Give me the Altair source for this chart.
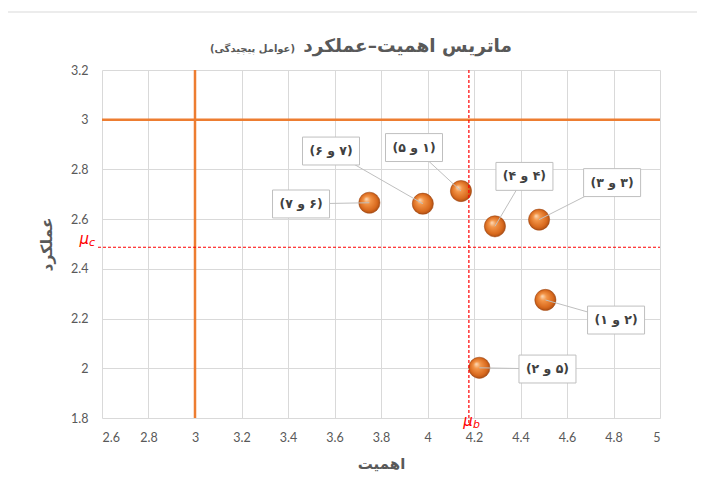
import altair as alt
import pandas as pd

# ---- data ----
importance = [3.75, 3.98, 4.144, 4.29, 4.48, 4.507, 4.223]
performance = [2.666, 2.662, 2.713, 2.571, 2.598, 2.275, 2.002]
labels = ["(۶ و ۷)", "(۷ و ۶)", "(۱ و ۵)", "(۴ و ۴)", "(۳ و ۳)", "(۲ و ۱)", "(۵ و ۲)"]
label_x = [3.456, 3.585, 3.942, 4.417, 4.794, 4.811, 4.516]
label_y = [2.661, 2.874, 2.888, 2.772, 2.747, 2.194, 1.997]

x_ticks = [2.6, 2.8, 3.0, 3.2, 3.4, 3.6, 3.8, 4.0, 4.2, 4.4, 4.6, 4.8, 5.0]
y_ticks = [1.8, 2.0, 2.2, 2.4, 2.6, 2.8, 3.0, 3.2]

threshold_x = [3.0]
threshold_y = [3.0]
mu_b = [4.178]
mu_c = [2.487]

title_main = "ماتریس اهمیت–عملکرد"
title_sub = "(عوامل پیچیدگی)"
x_title = "اهمیت"
y_title = "عملکرد"

RLM = "\u200f"

df = pd.DataFrame({
    "imp": importance,
    "perf": performance,
    "lx": label_x,
    "ly": label_y,
    "label": [RLM + s + RLM for s in labels],
})

W, H = 558, 348
GRAY = "#595959"
PFONT = "DejaVu Sans"

xs = alt.Scale(domain=[2.6, 5.0], nice=False, zero=False)
ys = alt.Scale(domain=[1.8, 3.2], nice=False, zero=False)

x_axis = alt.Axis(values=x_ticks, format="~g", grid=True, gridColor="#D9D9D9",
                  domain=False, ticks=False, labelPadding=13, labelColor=GRAY,
                  labelFont="Lato", labelFontSize=12.5, title=x_title,
                  titleFont=PFONT, titleFontSize=15, titleFontWeight="bold",
                  titleColor=GRAY, titlePadding=13)
y_axis = alt.Axis(values=y_ticks, format="~g", grid=True, gridColor="#D9D9D9",
                  domain=False, ticks=False, labelPadding=14, labelColor=GRAY,
                  labelFont="Lato", labelFontSize=12.5, title=y_title,
                  titleFont=PFONT, titleFontSize=15.5, titleFontWeight="bold",
                  titleColor=GRAY, titlePadding=16)


def X(field):
    return alt.X(field, scale=xs, axis=x_axis, title=x_title)


def Y(field):
    return alt.Y(field, scale=ys, axis=y_axis, title=y_title)


ball = alt.RadialGradient(
    gradient="radial",
    x1=0.35, y1=0.32, r1=0.0,
    x2=0.5, y2=0.5, r2=0.55,
    stops=[
        alt.GradientStop(offset=0.0, color="#FCDDBD"),
        alt.GradientStop(offset=0.3, color="#F39548"),
        alt.GradientStop(offset=0.75, color="#D8691D"),
        alt.GradientStop(offset=1.0, color="#9C4410"),
    ],
)

frame = alt.Chart(pd.DataFrame({"f": [0]})).mark_rect(
    fillOpacity=0, stroke="#D9D9D9", strokeWidth=1).encode(
    x=alt.value(-95), x2=alt.value(W + 60), y=alt.value(-58), y2=alt.value(H + 80))

base = alt.Chart(df)

points = base.mark_circle(size=450, opacity=1, fill=ball, stroke="#9C4410",
                          strokeWidth=0.5).encode(x=X("imp:Q"), y=Y("perf:Q"))

vline = alt.Chart(pd.DataFrame({"v": threshold_x})).mark_rule(
    color="#ED7D31", strokeWidth=2.5).encode(x=X("v:Q"))
hline = alt.Chart(pd.DataFrame({"v": threshold_y})).mark_rule(
    color="#ED7D31", strokeWidth=2.5).encode(y=Y("v:Q"))

mub_df = pd.DataFrame({"v": mu_b})
muc_df = pd.DataFrame({"v": mu_c})

mub_line = alt.Chart(mub_df).mark_rule(color="#FF0000", strokeWidth=1.2,
                                       strokeDash=[3, 2]).encode(
    x=X("v:Q"), y=alt.value(0), y2=alt.value(H + 6))
muc_line = alt.Chart(muc_df).mark_rule(color="#FF0000", strokeWidth=1.2,
                                       strokeDash=[3, 2]).encode(
    y=Y("v:Q"), x=alt.value(-4), x2=alt.value(W))

mub_mu = alt.Chart(mub_df).mark_text(text="μ", color="#FF0000", fontStyle="italic",
                                     fontSize=15, align="right", baseline="alphabetic",
                                     dx=4, font="DejaVu Sans").encode(
    x=X("v:Q"), y=alt.value(H + 8))
mub_sub = alt.Chart(mub_df).mark_text(text="b", color="#FF0000", fontStyle="italic",
                                      fontSize=11, align="left", baseline="alphabetic",
                                      dx=4, font="DejaVu Sans").encode(
    x=X("v:Q"), y=alt.value(H + 10))
muc_mu = alt.Chart(muc_df).mark_text(text="μ", color="#FF0000", fontStyle="italic",
                                     fontSize=15, align="right", baseline="alphabetic",
                                     dy=-3, font="DejaVu Sans").encode(
    y=Y("v:Q"), x=alt.value(-13))
muc_sub = alt.Chart(muc_df).mark_text(text="c", color="#FF0000", fontStyle="italic",
                                      fontSize=11, align="left", baseline="alphabetic",
                                      dy=-1, font="DejaVu Sans").encode(
    y=Y("v:Q"), x=alt.value(-13))

leaders = base.mark_rule(color="#BFBFBF", strokeWidth=1).encode(
    x=X("lx:Q"), y=Y("ly:Q"), x2="imp:Q", y2="perf:Q")

boxes = base.mark_point(shape="M-1,-0.49L1,-0.49L1,0.49L-1,0.49Z", size=3249,
                        filled=True, fill="white", stroke="#BFBFBF", strokeWidth=1,
                        opacity=1, fillOpacity=1, strokeOpacity=1).encode(
    x=X("lx:Q"), y=Y("ly:Q"))

texts = base.mark_text(font=PFONT, fontWeight="bold", fontSize=12.5,
                       color="#404040").encode(
    x=X("lx:Q"), y=Y("ly:Q"), text="label:N")

t_main = alt.Chart(pd.DataFrame({"t": [title_main]})).mark_text(
    align="right", baseline="alphabetic", font=PFONT, fontSize=18.5,
    fontWeight="bold", color=GRAY).encode(
    x=alt.value(410), y=alt.value(-18), text="t:N")
t_sub = alt.Chart(pd.DataFrame({"t": [RLM + title_sub + RLM]})).mark_text(
    align="right", baseline="alphabetic", font=PFONT, fontSize=10,
    fontWeight="bold", color=GRAY).encode(
    x=alt.value(193), y=alt.value(-18), text="t:N")

chart = alt.layer(
    frame, points, vline, hline, mub_line, muc_line, leaders, boxes, texts,
    mub_mu, mub_sub, muc_mu, muc_sub, t_main, t_sub,
).properties(
    width=W, height=H,
    autosize=alt.AutoSizeParams(type="none"),
    padding={"left": 94, "top": 62, "right": 37, "bottom": 55},
    background="white",
).configure_view(stroke=None)

chart.save("out.html", embed_options={"renderer": "svg", "actions": False})
